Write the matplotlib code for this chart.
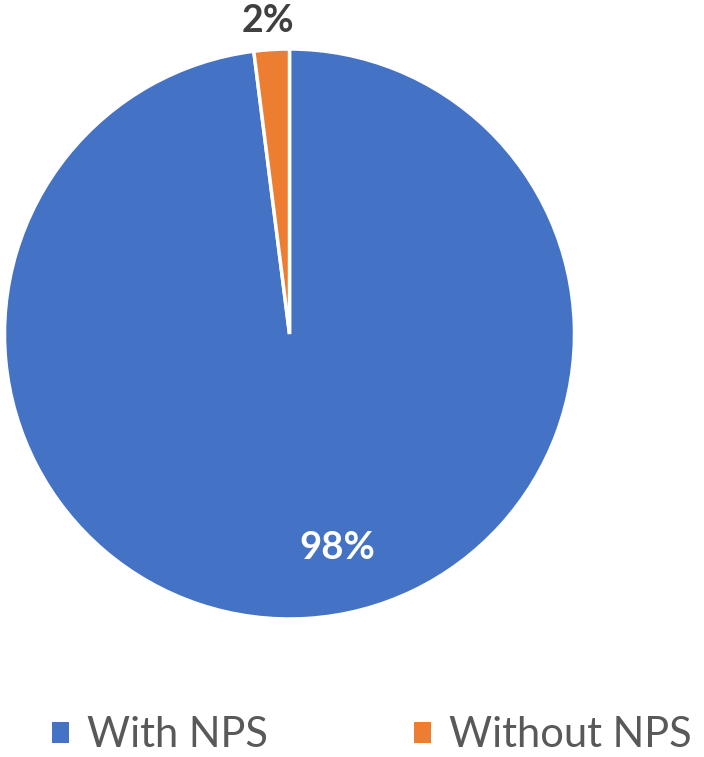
import matplotlib
matplotlib.use("Agg")
import matplotlib.pyplot as plt

labels = ["With NPS", "Without NPS"]
shares = [98, 2]
colors = ["#4472C4", "#ED7D31"]

plt.rcParams["font.family"] = ["Lato", "DejaVu Sans"]

W, H = 704, 757
fig = plt.figure(figsize=(W / 100, H / 100), dpi=100)

# pie: centre (289.5, 334) px from top-left, radius 285 px
cx, cy, r = 289.5, 334, 285
ax = fig.add_axes([(cx - r) / W, (H - cy - r) / H, 2 * r / W, 2 * r / H])
wedges, _ = ax.pie(shares, colors=colors, startangle=90, counterclock=False,
                   radius=1, wedgeprops=dict(edgecolor="white", linewidth=2.5))
ax.set_xlim(-1, 1)
ax.set_ylim(-1, 1)
ax.axis("off")

ax.text(0.167, -0.751, f"{shares[0]}%", color="white", fontsize=27.5,
        fontweight="bold", ha="center", va="center")
ax.text(-0.075, 1.10, f"{shares[1]}%", color="#404040", fontsize=27,
        fontweight="bold", ha="center", va="center", clip_on=False)

leg = fig.legend(wedges, labels, loc="center", bbox_to_anchor=(372 / W, 1 - 735 / H),
                 ncol=2, frameon=False, fontsize=30, handlelength=0.4,
                 handleheight=0.4, handletextpad=0.45, columnspacing=3.5,
                 labelcolor="#595959", borderpad=0, borderaxespad=0)
for h in leg.legend_handles:
    h.set_edgecolor("none")

fig.savefig("out.png", dpi=100)
